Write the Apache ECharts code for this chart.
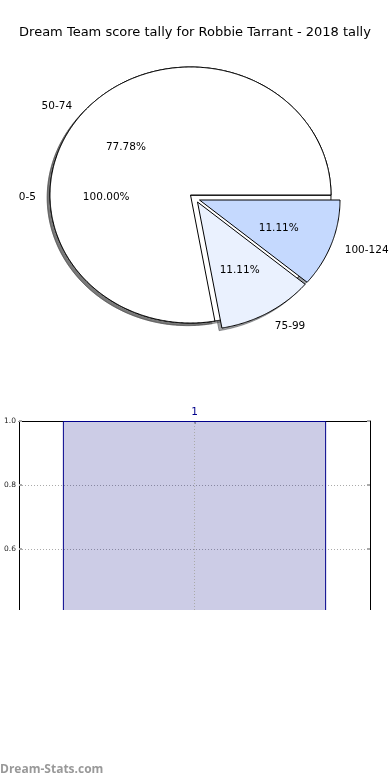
<!DOCTYPE html>
<html>
<head>
<meta charset="utf-8">
<script src="https://cdn.jsdelivr.net/npm/echarts@6/dist/echarts.min.js"></script>
<style>
html,body{margin:0;padding:0;background:#fff;}
#chart{width:390px;height:780px;}
</style>
</head>
<body>
<div id="chart"></div>
<script>
// ---- data ----
const titleText = 'Dream Team score tally for Robbie Tarrant - 2018 tally';
const pieCategories = ['0-5', '50-74', '75-99', '100-124'];
const piePercents = [100.00, 77.78, 11.11, 11.11];
const barCategories = ['1'];
const barValues = [1.0];
const yMin = 0.4, yMax = 1.0, yInterval = 0.2;

// ---- style / layout ----
const PIE = { cx: 190.5, cy: 195, rx: 140.5, ry: 128 };
const sliceColors = ['#ffffff', '#ffffff', '#eaf1fe', '#c5d9fe'];
const shadowColors = ['rgba(77,77,77,0.5)', 'rgba(77,77,77,0.5)', 'rgba(70,72,76,0.5)', 'rgba(59,65,76,0.5)'];
const explodeOffsets = [[0, 0], [0, 0], [7, 7], [9, 5]];
const SHADOW = [-2.8, 2.6];
const TEXT_DY = 2;
const FONT = 'DejaVu Sans';

function renderSlice(params, api) {
  const i = params.dataIndex;
  const pct = api.value(1);
  let start = 0;
  for (let j = 0; j < i; j++) start += piePercents[j];
  const a0 = start / 100 * Math.PI * 2;
  const a1 = (start + pct) / 100 * Math.PI * 2;
  const cx = PIE.cx + explodeOffsets[i][0];
  const cy = PIE.cy + explodeOffsets[i][1];
  const pts = [[cx, cy]];
  const steps = Math.max(2, Math.ceil((a1 - a0) / (Math.PI / 360)));
  for (let k = 0; k <= steps; k++) {
    const a = a0 + (a1 - a0) * k / steps;
    pts.push([cx + PIE.rx * Math.cos(a), cy - PIE.ry * Math.sin(a)]);
  }
  const spts = pts.map(p => [p[0] + SHADOW[0], p[1] + SHADOW[1]]);
  const mid = (a0 + a1) / 2;
  const lx = cx + 1.1 * PIE.rx * Math.cos(mid);
  const ly = cy - 1.1 * PIE.ry * Math.sin(mid) + TEXT_DY;
  const px = cx + 0.6 * PIE.rx * Math.cos(mid);
  const py = cy - 0.6 * PIE.ry * Math.sin(mid) + TEXT_DY;
  return {
    type: 'group',
    children: [
      { type: 'polygon', z2: 0, shape: { points: spts },
        style: { fill: shadowColors[i], stroke: shadowColors[i], lineWidth: 1 } },
      { type: 'polygon', z2: 10 + i, shape: { points: pts },
        style: { fill: sliceColors[i], stroke: '#000', lineWidth: 1 } },
      { type: 'text', z2: 100, x: lx, y: ly,
        style: { text: pieCategories[i], fill: '#000', fontSize: 10.5, fontFamily: FONT,
                 align: Math.cos(mid) < 0 ? 'right' : 'left', verticalAlign: 'middle' } },
      { type: 'text', z2: 100, x: px, y: py,
        style: { text: pct.toFixed(2) + '%', fill: '#000', fontSize: 10.5, fontFamily: FONT,
                 align: 'center', verticalAlign: 'middle' } }
    ]
  };
}

const chart = echarts.init(document.getElementById('chart'), null, { renderer: 'canvas' });
chart.setOption({
  animation: false,
  backgroundColor: '#fff',
  title: {
    text: titleText, left: 'center', top: 21,
    textStyle: { fontFamily: FONT, fontSize: 13, fontWeight: 'normal', color: '#000' }
  },
  grid: { left: 19, right: 20, top: 421, bottom: 167, show: false },
  xAxis: {
    type: 'category', data: barCategories, position: 'top',
    axisLine: { show: true, lineStyle: { color: '#000', width: 1 } },
    axisTick: { show: true, alignWithLabel: true, inside: true, length: 3, lineStyle: { color: '#aaa', width: 2 } },
    axisLabel: { color: '#00008b', fontSize: 10.5, fontFamily: FONT, margin: 3 },
    splitLine: { show: false }
  },
  yAxis: [
    {
      type: 'value', min: yMin, max: yMax, interval: yInterval, position: 'left',
      axisLine: { show: true, lineStyle: { color: '#000', width: 1 } },
      axisTick: { show: true, inside: true, length: 3, lineStyle: { color: '#aaa', width: 2 } },
      axisLabel: { showMinLabel: false, fontSize: 7.5, fontFamily: FONT, color: '#222', margin: 3,
                   formatter: v => v.toFixed(1) },
      splitLine: { show: true, lineStyle: { color: '#aaa', width: 1, type: [1, 2] } }
    },
    {
      type: 'value', min: yMin, max: yMax, interval: yInterval, position: 'right',
      axisLine: { show: true, lineStyle: { color: '#000', width: 1 } },
      axisTick: { show: true, inside: true, length: 3, lineStyle: { color: '#aaa', width: 2 } },
      axisLabel: { show: false },
      splitLine: { show: false }
    }
  ],
  series: [
    {
      type: 'custom', coordinateSystem: 'none', renderItem: renderSlice,
      data: pieCategories.map((c, i) => [i, piePercents[i]]),
      silent: true
    },
    {
      type: 'bar', xAxisIndex: 0, yAxisIndex: 0, data: barValues, barWidth: '75%',
      itemStyle: { color: 'rgba(0,0,128,0.2)', borderColor: '#00008b', borderWidth: 1 },
      markLine: {
        silent: true, symbol: ['none', 'none'], label: { show: false },
        lineStyle: { color: '#aaa', width: 1, type: [1, 2] },
        data: [{ xAxis: barCategories[0] }]
      }
    }
  ],
  graphic: [
    { type: 'rect', z: 100, shape: { x: 0, y: 610, width: 390, height: 12 }, style: { fill: '#fff' } },
    { type: 'text', z: 100, left: 0, top: 764,
      style: { text: 'Dream-Stats.com', fill: '#999', font: 'bold 12px "Open Sans"' } }
  ]
});
</script>
</body>
</html>
